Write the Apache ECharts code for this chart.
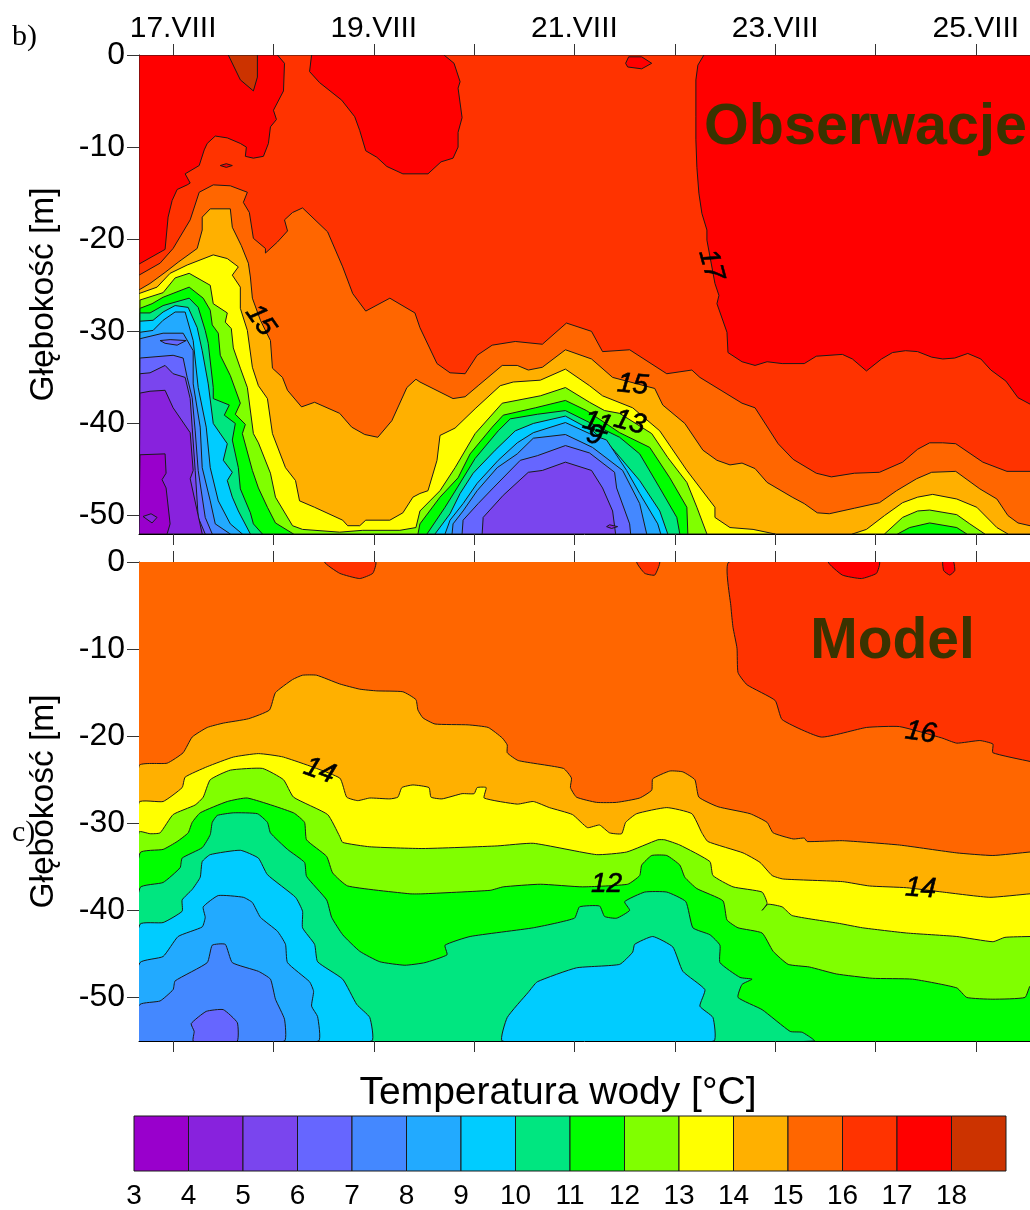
<!DOCTYPE html>
<html><head><meta charset="utf-8">
<style>html,body{margin:0;padding:0;background:#fff}#c{width:1030px;height:1210px}</style>
<script src="https://cdn.jsdelivr.net/npm/echarts@6/dist/echarts.min.js"></script>
</head><body><div id="c"></div>
<script>
// Temperature bands: colour of band [T, T+1), T = 3..18
const bandStart=[3,4,5,6,7,8,9,10,11,12,13,14,15,16,17,18];
const bandColors=['#9900CC','#8822DD','#7A45EE','#6666FF','#4488FF','#22AAFF','#00CCFF','#00E680','#00FF00','#80FF00','#FFFF00','#FFB000','#FF6600','#FF3300','#FF0000','#CC3300'];
const dayTicks=[17,18,19,20,21,22,23,24,25];
const dayLabels=[17,19,21,23,25];
const depthTicks=[0,-10,-20,-30,-40,-50];

// ---- Observations: isotherm outlines as [day of August, depth m]
const obsAll=[[16.66,0],[25.6,0],[25.6,-52],[16.66,-52]];
const obs17=[[16.66,-22.7],[16.92,-21.1],[16.95,-17.6],[16.99,-15.8],[17.04,-14.6],[17.14,-14.1],[17.17,-13.9],[17.12,-12.9],[17.26,-12],[17.31,-10.3],[17.34,-9.6],[17.42,-8.8],[17.54,-9],[17.67,-9.6],[17.73,-10],[17.72,-11],[17.8,-11.2],[17.9,-11],[17.95,-9.6],[17.97,-7.8],[18.03,-7],[18,-6],[18.1,-3.9],[18.11,-0.9],[18.04,0],[18.38,0],[18.36,-1.8],[18.46,-3],[18.68,-4.9],[18.81,-6.7],[18.86,-8.2],[18.92,-10.4],[19.03,-11.1],[19.13,-12.1],[19.29,-12.9],[19.54,-12.9],[19.67,-11.6],[19.79,-11.2],[19.84,-10],[19.84,-8.4],[19.88,-6.8],[19.84,-3.6],[19.86,-2.9],[19.8,-0.9],[19.7,0],[22.29,0],[22.23,-1.1],[22.21,-2.7],[22.21,-6.7],[22.21,-9.2],[22.22,-12.2],[22.24,-15],[22.27,-17.2],[22.32,-19],[22.32,-20.1],[22.4,-24.8],[22.44,-26.1],[22.42,-27],[22.52,-30.1],[22.53,-32.3],[22.67,-33.3],[22.8,-33.7],[22.92,-33.3],[23.07,-33.5],[23.29,-33.5],[23.41,-32.7],[23.67,-32.5],[23.77,-33],[23.91,-34.3],[24.06,-33],[24.17,-32.3],[24.3,-32.1],[24.42,-32.2],[24.56,-32.8],[24.67,-33],[24.79,-32.9],[24.92,-32.4],[25.05,-33],[25.15,-34.2],[25.3,-35.4],[25.42,-37.2],[25.54,-37.9],[25.6,-38.5],[25.6,-52],[16.66,-52]];
const obs18=[[17.55,0],[17.67,-2.7],[17.8,-3.9],[17.84,-2.4],[17.84,0]];
const obsIsle17a=[[21.54,-0.2],[21.67,-0.2],[21.77,-0.9],[21.67,-1.5],[21.53,-1.3],[21.51,-0.9]];
const obsIsle17b=[[17.47,-12],[17.53,-11.8],[17.59,-12],[17.53,-12.2]];
const obs16=[[16.66,-23.9],[16.87,-22.6],[17,-21],[17.17,-17.9],[17.26,-14.9],[17.4,-14.1],[17.57,-14.2],[17.74,-14.9],[17.7,-16],[17.76,-17.1],[17.8,-19.9],[17.92,-21],[17.92,-21.5],[18.04,-20.3],[18.14,-19.1],[18.11,-17.9],[18.19,-17.1],[18.29,-16.6],[18.54,-19.2],[18.69,-23],[18.79,-25.9],[18.92,-27.8],[19.16,-26.4],[19.41,-28],[19.46,-29.6],[19.63,-33.5],[19.76,-34.5],[19.91,-34.6],[20.03,-32.6],[20.18,-31.5],[20.41,-31.1],[20.68,-31.4],[20.92,-29.1],[21.17,-30],[21.28,-32.2],[21.55,-32],[21.92,-34.6],[22.17,-34.2],[22.25,-35],[22.67,-37.8],[22.8,-38.3],[23.03,-42.2],[23.18,-43.9],[23.41,-45.4],[23.56,-45.8],[23.79,-45.4],[24.04,-45.3],[24.27,-44.2],[24.42,-42.8],[24.54,-42.1],[24.67,-42.1],[24.8,-42.2],[25.07,-44.2],[25.31,-45.2],[25.54,-45.2],[25.6,-45.2],[25.6,-52],[16.66,-52]];
const obs15=[[16.66,-25.5],[16.77,-24.8],[16.92,-23.6],[17.05,-22.5],[17.24,-21],[17.29,-19],[17.29,-17.6],[17.37,-16.7],[17.57,-16.7],[17.59,-18.7],[17.68,-20.7],[17.75,-22.6],[17.77,-24.1],[17.79,-26.4],[17.87,-28.8],[17.97,-31],[17.99,-34],[18.09,-35],[18.14,-36.4],[18.28,-38.2],[18.41,-37.7],[18.66,-38.9],[18.78,-40.4],[18.91,-41.2],[19.04,-41.5],[19.18,-39.7],[19.33,-36.1],[19.42,-35.2],[19.46,-35.5],[19.79,-37.3],[19.91,-37.1],[20.04,-35.9],[20.28,-33.7],[20.43,-33.7],[20.54,-34.2],[20.68,-33.9],[20.91,-32],[21.17,-33],[21.38,-35],[21.8,-36.2],[21.88,-38],[22.1,-40],[22.28,-42.9],[22.42,-44],[22.55,-44.5],[22.67,-44.3],[22.8,-44.9],[22.92,-46.4],[23.17,-48],[23.29,-48.7],[23.42,-49.7],[23.54,-49.8],[23.79,-49.2],[24.04,-48.6],[24.21,-47.3],[24.41,-46],[24.56,-45.3],[24.8,-45.2],[25.04,-47.1],[25.21,-48.2],[25.32,-50],[25.42,-50.8],[25.54,-51.1],[25.6,-51.2],[25.6,-52],[16.66,-52]];
const obs14=[[16.66,-25.9],[16.84,-25.2],[16.97,-23.7],[17.14,-22.8],[17.4,-21.7],[17.54,-22.1],[17.65,-23],[17.59,-23.9],[17.67,-25.2],[17.67,-27.5],[17.74,-29.9],[17.79,-33.9],[17.85,-35.9],[17.94,-37.3],[17.99,-41.1],[18.12,-44.8],[18.22,-46.2],[18.26,-48.4],[18.41,-49.1],[18.69,-50.5],[18.74,-51.1],[18.86,-51.1],[18.92,-50.5],[19.16,-50.5],[19.29,-49.7],[19.39,-48],[19.46,-47.6],[19.54,-47.3],[19.63,-44],[19.66,-41.3],[19.81,-40.5],[20.01,-38.4],[20.26,-35.9],[20.39,-35.5],[20.66,-35.3],[20.91,-34.1],[21.15,-35.9],[21.28,-37],[21.58,-38.3],[21.85,-40.8],[22.12,-45.1],[22.4,-49.1],[22.4,-50.2],[22.55,-51.3],[22.78,-51.5],[23,-52],[16.66,-52]];
const obs14b=[[23.77,-52],[23.91,-51.5],[24.09,-50],[24.27,-48.6],[24.42,-48],[24.57,-47.7],[24.81,-48.2],[25.01,-49.1],[25.21,-51.3],[25.32,-52]];
const obs13=[[16.67,-26.6],[16.9,-25.8],[17.02,-24.2],[17.16,-23.7],[17.37,-25],[17.4,-27],[17.54,-28],[17.52,-29],[17.58,-29.7],[17.6,-31.8],[17.67,-34],[17.74,-36.1],[17.8,-41.1],[17.85,-42.1],[17.97,-45.4],[18.02,-48],[18.19,-51.1],[18.29,-51.5],[18.66,-51.8],[18.89,-51.6],[19.26,-51.6],[19.42,-51.3],[19.46,-49.5],[19.56,-48.4],[19.66,-47.3],[19.81,-44.8],[20.01,-41.1],[20.28,-37.8],[20.66,-37],[20.91,-36.1],[21.15,-37.7],[21.3,-38.6],[21.45,-38.9],[21.77,-41.1],[21.93,-43.7],[22.12,-46.4],[22.22,-49.1],[22.32,-52],[16.66,-52]];
const obs13b=[[24.09,-52],[24.27,-50.2],[24.42,-49.5],[24.54,-49.4],[24.81,-49.9],[24.94,-50.9],[25.09,-52]];
const obs12=[[16.67,-27.5],[16.79,-27],[16.9,-26.3],[17.16,-25.2],[17.3,-26.4],[17.37,-27.7],[17.39,-29.3],[17.45,-30.2],[17.47,-32.6],[17.57,-34.8],[17.67,-37.8],[17.62,-39],[17.72,-40.1],[17.69,-41.1],[17.79,-45.1],[17.85,-47],[17.94,-49.1],[18.02,-50.8],[18.2,-52],[16.66,-52]];
const obs12b=[[19.44,-52],[19.46,-50.9],[19.66,-48],[19.84,-45.9],[19.96,-43.3],[20.18,-40.4],[20.29,-39.1],[20.61,-38.3],[20.91,-37.5],[21.12,-38.6],[21.45,-41],[21.75,-42.6],[21.95,-45.9],[22.12,-49.1],[22.13,-52]];
const obs12c=[[24.22,-52],[24.34,-51.3],[24.54,-50.8],[24.81,-51.3],[24.91,-52]];
const obs11=[[16.67,-28],[16.77,-28],[16.9,-27.2],[17.16,-26.4],[17.25,-27.4],[17.32,-29.9],[17.35,-31.3],[17.4,-36.1],[17.4,-37.3],[17.56,-38],[17.51,-39.1],[17.62,-40],[17.59,-41.8],[17.65,-44.8],[17.67,-47.1],[17.77,-49.7],[17.8,-50.9],[17.89,-52],[16.66,-52]];
const obs11b=[[19.53,-52],[19.71,-49.1],[19.83,-47],[20.01,-43.8],[20.24,-40.8],[20.36,-39.5],[20.63,-39],[20.91,-38.6],[21.15,-39.9],[21.45,-41.5],[21.65,-43.3],[21.85,-47],[22.02,-50.2],[22.05,-52]];
const obs10=[[16.67,-28.9],[16.8,-28.8],[16.9,-27.9],[17.02,-27.2],[17.15,-27.4],[17.24,-29.6],[17.29,-32.1],[17.35,-35.7],[17.4,-40],[17.54,-42.2],[17.5,-44],[17.59,-45.3],[17.54,-46.2],[17.59,-48],[17.65,-49.5],[17.77,-52],[16.66,-52]];
const obs10b=[[19.61,-52],[19.76,-49.8],[19.86,-47.6],[19.99,-45.4],[20.21,-42.9],[20.41,-40.8],[20.59,-40],[20.91,-39.2],[21.18,-40.8],[21.37,-42.6],[21.65,-46.2],[21.85,-49.5],[21.93,-52]];
const obs9=[[16.67,-30.1],[16.8,-29.9],[16.9,-28.8],[17.02,-27.9],[17.12,-27.9],[17.2,-31],[17.25,-36.1],[17.33,-40.4],[17.37,-44.8],[17.45,-48.4],[17.57,-50.9],[17.69,-52],[16.66,-52]];
const obs9b=[[19.71,-52],[19.76,-50.5],[19.89,-48.7],[20.03,-46.5],[20.24,-44],[20.43,-42.1],[20.59,-41],[20.91,-39.9],[21.15,-41.1],[21.32,-41.8],[21.52,-45.1],[21.65,-47.6],[21.83,-50.9],[21.86,-52]];
const obs8=[[16.67,-30.8],[16.9,-30.2],[17.1,-30.2],[17.2,-32.1],[17.2,-35.7],[17.27,-40.4],[17.29,-44.8],[17.37,-48.4],[17.42,-50.9],[17.57,-52],[16.66,-52]];
const obs8b=[[19.78,-52],[19.79,-50.9],[19.89,-49.5],[20.03,-47.3],[20.23,-44.8],[20.43,-43.3],[20.59,-41.6],[20.91,-41.2],[21.18,-42.6],[21.48,-45.1],[21.65,-48.7],[21.72,-52]];
const obsIsle7=[[16.87,-31],[16.97,-30.9],[17.13,-31],[17.04,-31.5],[16.92,-31.3]];
const obs7=[[16.67,-32.9],[17,-32.6],[17.1,-32.9],[17.14,-35],[17.19,-37.2],[17.22,-40.8],[17.25,-45.1],[17.32,-50.2],[17.39,-52],[16.66,-52]];
const obs7b=[[19.88,-52],[19.89,-50.5],[20.04,-48.7],[20.19,-47],[20.46,-44],[20.63,-43.5],[20.91,-42.4],[21.15,-43.2],[21.4,-45.3],[21.42,-47],[21.55,-50.9],[21.56,-52]];
const obs6=[[16.67,-34.6],[16.77,-34.5],[16.92,-33.7],[17,-34.6],[17.12,-35],[17.17,-37.3],[17.19,-40.4],[17.22,-45.1],[17.25,-50.2],[17.32,-52],[16.66,-52]];
const obs6b=[[20.08,-52],[20.09,-50.2],[20.29,-47.8],[20.54,-45.3],[20.68,-45.1],[20.91,-44.2],[21.17,-45.1],[21.28,-47],[21.38,-49.5],[21.41,-52]];
const obsIsle5=[[21.32,-51.2],[21.35,-51],[21.43,-51.2],[21.37,-51.4]];
const obs5=[[16.67,-36.7],[16.77,-36.5],[16.92,-36.4],[17,-38.3],[17.17,-41],[17.2,-45.1],[17.17,-46],[17.24,-49.5],[17.29,-52],[16.66,-52]];
const obs4=[[16.67,-43.4],[16.92,-43.3],[16.93,-45.4],[16.89,-46.1],[16.93,-47],[16.97,-50.9],[16.94,-52],[16.66,-52]];
const obsIsle4=[[16.7,-50.1],[16.78,-49.8],[16.84,-50.2],[16.79,-50.8]];

// ---- Model
const modAll=[[16.66,0],[25.6,0],[25.6,-55],[16.66,-55]];
const mod16=[[22.54,0],[22.56,-5.2],[22.58,-7.5],[22.62,-9.9],[22.63,-12.7],[22.72,-14.1],[23,-15.9],[23.07,-18.1],[23.46,-20.1],[23.91,-19],[24.24,-18.9],[24.66,-20.2],[24.81,-20.8],[25.04,-20.5],[25.17,-20.9],[25.17,-21.9],[25.54,-22.9],[25.6,-23],[25.6,0]];
const mod16b=[[18.51,0],[18.66,-1.3],[18.86,-1.9],[18.99,-1.3],[19.02,0]];
const mod16c=[[21.62,0],[21.7,-1.3],[21.8,-1.5],[21.85,0]];
const mod17a=[[23.53,0],[23.67,-1.5],[23.86,-1.9],[24.01,-1.3],[24.04,0]];
const mod17b=[[24.67,0],[24.68,-1],[24.74,-1.5],[24.79,-1],[24.78,0]];
const mod15=[[16.66,-23.4],[16.94,-23.1],[17.1,-21.9],[17.19,-20.1],[17.34,-19],[17.5,-18.5],[17.75,-18],[17.96,-17],[18.02,-15],[18.19,-13.5],[18.29,-13],[18.43,-13],[18.66,-14],[18.86,-14.6],[19.03,-14.8],[19.29,-14.9],[19.42,-15.8],[19.44,-17],[19.49,-17.9],[19.61,-18.6],[19.94,-18.7],[20.14,-19],[20.28,-20.2],[20.33,-21],[20.33,-21.9],[20.44,-22.8],[20.89,-23.7],[20.97,-24.8],[20.96,-25.9],[21.02,-27],[21.22,-27.6],[21.42,-27.6],[21.65,-27.1],[21.77,-26.2],[21.78,-24.9],[21.95,-24],[22.08,-24.1],[22.2,-25],[22.24,-27],[22.43,-28.1],[22.75,-28.9],[22.92,-29.9],[22.98,-31.1],[23.18,-31.8],[23.29,-31.7],[23.32,-32.1],[23.67,-32],[24.24,-32.5],[24.81,-33.4],[25.17,-33.7],[25.54,-33.3],[25.6,-33.3],[25.6,-55],[16.66,-55]];
const mod14=[[16.66,-27.6],[16.9,-27.5],[17.09,-25.9],[17.12,-24.7],[17.34,-23.5],[17.6,-22.4],[17.85,-22],[18.1,-22.4],[18.66,-24.8],[18.73,-27],[18.84,-27.4],[18.96,-27.1],[19.16,-27.2],[19.24,-27],[19.28,-25.9],[19.39,-25.6],[19.55,-25.9],[19.57,-27],[19.68,-27.2],[19.88,-26.6],[20,-26.6],[20.03,-25.9],[20.12,-25.9],[20.1,-27.1],[20.43,-27.8],[20.59,-27.5],[20.75,-28.2],[20.98,-29],[21.13,-30.5],[21.25,-30.2],[21.35,-31.1],[21.47,-31.2],[21.51,-29.9],[21.62,-28.9],[21.92,-28.2],[22.17,-28.9],[22.27,-31.1],[22.33,-32.1],[22.68,-33.4],[22.85,-34.5],[22.97,-36],[23.08,-36.4],[23.67,-36.7],[23.94,-37.2],[24.31,-37.4],[24.67,-37.9],[25.14,-38.5],[25.54,-38.1],[25.6,-38.1],[25.6,-55],[16.66,-55]];
const mod13=[[16.66,-31],[16.77,-31.2],[16.87,-31.1],[17,-29],[17.22,-27.9],[17.3,-27],[17.37,-25],[17.57,-23.9],[17.89,-23.7],[18.1,-25],[18.2,-27],[18.54,-29],[18.66,-31.5],[18.69,-32.2],[18.96,-32.7],[19.49,-32.9],[20.23,-32.6],[20.59,-32.3],[21.22,-33.6],[21.52,-33.3],[21.83,-31.9],[21.9,-31.9],[22.05,-32.5],[22.35,-34.4],[22.38,-36],[22.58,-37.3],[22.87,-37.9],[22.92,-39.2],[22.87,-40],[22.93,-39.3],[23.07,-39.6],[23.17,-40.6],[23.64,-41.5],[23.87,-42],[24.31,-42.6],[24.81,-43],[25.17,-43.6],[25.29,-43.1],[25.54,-43],[25.6,-43],[25.6,-55],[16.66,-55]];
const mod12=[[16.67,-33.4],[16.9,-33],[17.04,-32.1],[17.15,-31.1],[17.19,-29.9],[17.27,-28.8],[17.54,-27.5],[17.74,-27.1],[18.2,-28.8],[18.31,-29.9],[18.33,-31.9],[18.53,-33.8],[18.59,-35.7],[18.74,-37.2],[19.36,-38.1],[19.49,-38.1],[20.16,-37.7],[20.29,-37.3],[20.66,-37],[21.08,-37.3],[21.53,-37],[21.65,-36],[21.67,-34.8],[21.77,-33.7],[21.92,-33.7],[22.05,-34.8],[22.1,-36.2],[22.22,-37.5],[22.48,-38.9],[22.52,-41.1],[22.63,-42],[22.87,-42.6],[22.98,-44.7],[23.13,-46.2],[23.34,-46.5],[23.61,-47.3],[23.97,-47.8],[24.37,-47.9],[24.81,-48.9],[24.91,-50],[25.17,-50.2],[25.49,-50],[25.54,-48.7],[25.6,-48.7],[25.6,-55],[16.66,-55]];
const mod11=[[16.67,-37.4],[16.9,-36.8],[17.07,-35.1],[17.09,-34],[17.29,-32.8],[17.37,-31.3],[17.39,-29.9],[17.44,-29.1],[17.6,-28.8],[17.84,-28.9],[17.94,-29.9],[17.97,-31.1],[18.14,-33],[18.31,-34.5],[18.33,-36.1],[18.53,-38.8],[18.58,-40.8],[18.69,-42.8],[18.86,-44.7],[19.06,-45.9],[19.31,-46.3],[19.51,-46],[19.73,-45.1],[19.71,-44],[19.96,-43],[20.59,-42],[21,-40.9],[21.05,-39.6],[21.25,-39.5],[21.3,-40.7],[21.42,-40.9],[21.55,-40],[21.5,-39],[21.7,-37.9],[21.92,-37.9],[22.11,-39],[22.18,-42],[22.35,-42.8],[22.45,-44],[22.45,-46],[22.65,-47.7],[22.77,-47.9],[22.67,-48.5],[22.63,-50],[22.87,-51.4],[23.15,-53.9],[23.27,-54],[23.39,-55],[16.66,-55]];
const mod10=[[16.67,-41.6],[16.9,-41.4],[17.09,-40.1],[17.09,-38.8],[17.19,-37.6],[17.27,-36.2],[17.29,-34.4],[17.37,-33.6],[17.67,-33.1],[17.85,-34],[17.94,-35.9],[18.22,-38.5],[18.29,-40.1],[18.29,-42],[18.41,-43.9],[18.44,-45.9],[18.69,-47.9],[18.83,-50.8],[18.96,-52.3],[18.98,-55],[16.66,-55]];
const mod10b=[[20.28,-55],[20.33,-52.3],[20.54,-49.4],[20.63,-48.2],[21.02,-46.6],[21.45,-46.2],[21.58,-44.8],[21.6,-43.9],[21.78,-43],[21.98,-44.2],[22.08,-47],[22.3,-49.1],[22.25,-51],[22.38,-52.3],[22.39,-55]];
const mod9=[[16.67,-46],[16.9,-45.3],[17.05,-43],[17.29,-41.9],[17.32,-40.8],[17.3,-39.6],[17.45,-38.3],[17.7,-38.5],[17.79,-39.1],[17.87,-40.8],[18.04,-42.4],[18.12,-43.9],[18.14,-46],[18.36,-48.2],[18.4,-49.3],[18.38,-51],[18.44,-52.2],[18.45,-55],[16.66,-55]];
const mod8=[[16.67,-50.8],[16.87,-50.4],[17,-49.1],[17.02,-48.1],[17.34,-46],[17.39,-44],[17.52,-43.9],[17.59,-46],[17.85,-47],[17.97,-47.9],[18.02,-50.2],[18.11,-52.5],[18.11,-55],[16.66,-55]];
const mod7=[[17.2,-55],[17.21,-53.9],[17.18,-53],[17.33,-51.6],[17.5,-51.4],[17.64,-52.9],[17.64,-55]];

// Layer order: [outline, band start]
const obsLayers=[[obsAll,17],[obs17,16],[obs18,18],[obsIsle17a,17],[obsIsle17b,17],[obs16,15],[obs15,14],[obs14,13],[obs14b,13],[obs13,12],[obs13b,12],[obs12,11],[obs12b,11],[obs12c,11],[obs11,10],[obs11b,10],[obs10,9],[obs10b,9],[obs9,8],[obs9b,8],[obs8,7],[obs8b,7],[obsIsle7,6],[obs7,6],[obs7b,6],[obs6,5],[obs6b,5],[obsIsle5,4],[obs5,4],[obs4,3],[obsIsle4,4]];
const modLayers=[[modAll,15],[mod16,16],[mod16b,16],[mod16c,16],[mod17a,17],[mod17b,17],[mod15,14],[mod14,13],[mod13,12],[mod12,11],[mod11,10],[mod10,9],[mod10b,9],[mod9,8],[mod8,7],[mod7,6]];

// Contour labels: [day, depth, text, rotation in degrees]
const obsLabels=[[17.87,-28.8,'15',-55],[22.36,-22.8,'17',-75],[21.58,-35.8,'15',-5],[21.55,-39.9,'13',-15],[21.23,-40,'11',-15],[21.2,-41.3,'9',-15]];
const modLabels=[[18.46,-24,'14',-20],[21.32,-37,'12',0],[24.45,-19.6,'16',-8],[24.45,-37.5,'14',-3]];

const series=[];
// For the smoothed model outlines: stretches that run along the frame are routed just outside it,
// so that the curve is clipped there and contour crossings of the frame stay where they were read.
function routeOutside(pts,bottom){
  const out=[];
  const onTop=q=>q[1]>=0, onBottom=q=>q[1]<=bottom;
  const corner=q=>(q[0]<=16.67||q[0]>=25.6)&&(onTop(q)||onBottom(q));
  pts.forEach((q,i)=>{
    const n=pts[(i+1)%pts.length];
    out.push(corner(q)?[q[0]<20?16.4:25.8,onTop(q)?1:bottom-1]:q);
    if((onTop(q)&&onTop(n))||(onBottom(q)&&onBottom(n))) out.push([(q[0]+n[0])/2,onTop(q)?1:bottom-1]);
  });
  return out;
}
function addLayers(layers,xi,yi,bottom,smooth){
  layers.forEach(([pts,band])=>{
    const drawn=smooth?routeOutside(pts,bottom):pts;
    series.push({type:'custom',xAxisIndex:xi,yAxisIndex:yi,clip:true,silent:true,animation:false,z:2,
      data:pts,encode:{x:0,y:1},
      renderItem:(p,api)=>p.dataIndex!==0?null:{type:'polygon',shape:{points:drawn.map(q=>api.coord(q)),smooth:smooth},
        style:{fill:bandColors[band-3],stroke:'#1a1a1a',lineWidth:1}}});
  });
}
function addLabels(labels,xi,yi){
  series.push({type:'custom',xAxisIndex:xi,yAxisIndex:yi,silent:true,animation:false,z:5,
    data:labels,encode:{x:0,y:1},
    renderItem:(p,api)=>{const d=labels[p.dataIndex],c=api.coord([d[0],d[1]]);
      return {type:'text',x:c[0],y:c[1],rotation:d[3]*Math.PI/180,
        style:{text:d[2],fill:'#000',stroke:'#000',lineWidth:0.6,font:'italic 28px "Liberation Sans"',align:'center',verticalAlign:'middle'}};}});
}
addLayers(obsLayers,0,0,-52,0);addLabels(obsLabels,0,0);
addLayers(modLayers,2,1,-55,0.15);addLabels(modLabels,2,1);
series.push({type:'custom',xAxisIndex:4,yAxisIndex:2,silent:true,animation:false,
  data:bandStart.map(v=>[v,1]),encode:{x:0,y:1},
  renderItem:(p,api)=>{const v=api.value(0),a=api.coord([v,1]),b=api.coord([v+1,0]);
    return {type:'rect',shape:{x:a[0],y:a[1],width:b[0]-a[0],height:b[1]-a[1]},
      style:{fill:bandColors[p.dataIndex],stroke:'#1a1a1a',lineWidth:1}};}});

const lab=(s,extra)=>Object.assign({color:'#000',fontFamily:'Liberation Sans',fontSize:s},extra);
const tick={show:true,length:11,inside:false,lineStyle:{color:'#333',width:1},customValues:dayTicks};
const line={show:true,onZero:false,lineStyle:{color:'#000',width:1}};
function xAx(grid,pos,withLabels){return {type:'value',gridIndex:grid,position:pos,min:16.66,max:25.54,splitLine:{show:false},
  axisLine:line,axisTick:tick,
  axisLabel:withLabels?lab(30,{show:true,margin:11,customValues:dayLabels,formatter:v=>v+'.VIII'}):{show:false}};}
function yAx(grid,min){return {type:'value',gridIndex:grid,min:min,max:0,splitLine:{show:false},
  axisLine:line,axisTick:{show:true,length:12,lineStyle:{color:'#333'},customValues:depthTicks},
  axisLabel:lab(32,{margin:14,customValues:depthTicks}),
  name:'Głębokość [m]',nameLocation:'middle',nameGap:78,nameRotate:90,nameMoveOverlap:false,nameTextStyle:lab(33.5)};}

const chart=echarts.init(document.getElementById('c'),null,{renderer:'canvas',width:1030,height:1210});
chart.setOption({animation:false,backgroundColor:'#fff',
  grid:[{left:139,top:55,width:891,height:479},{left:139,top:562,width:891,height:479},{left:134,top:1116,width:872,height:55}],
  xAxis:[xAx(0,'top',true),xAx(0,'bottom',false),xAx(1,'top',false),xAx(1,'bottom',false),
    {type:'value',gridIndex:2,min:3,max:19,position:'bottom',splitLine:{show:false},axisLine:{show:false},axisTick:{show:false},
     axisLabel:lab(28,{margin:11,customValues:bandStart})}],
  yAxis:[yAx(0,-52),yAx(1,-55),{type:'value',gridIndex:2,min:0,max:1,show:false}],
  series:series,
  graphic:[
    {type:'text',z:100,x:865.5,y:128,style:{text:'Obserwacje',font:'bold 57.5px "Liberation Sans"',fill:'#3A3300',align:'center',verticalAlign:'middle'}},
    {type:'text',z:100,x:892.5,y:642,style:{text:'Model',font:'bold 57px "Liberation Sans"',fill:'#3A3300',align:'center',verticalAlign:'middle'}},
    {type:'text',z:100,x:558,y:1093,style:{text:'Temperatura wody [°C]',font:'39px "Liberation Sans"',fill:'#000',align:'center',verticalAlign:'middle'}},
    {type:'text',z:100,x:12,y:37,style:{text:'b)',font:'30px "Liberation Serif"',fill:'#000',align:'left',verticalAlign:'middle'}},
    {type:'text',z:100,x:12,y:833,style:{text:'c)',font:'30px "Liberation Serif"',fill:'#000',align:'left',verticalAlign:'middle'}}
  ]
});
</script></body></html>
